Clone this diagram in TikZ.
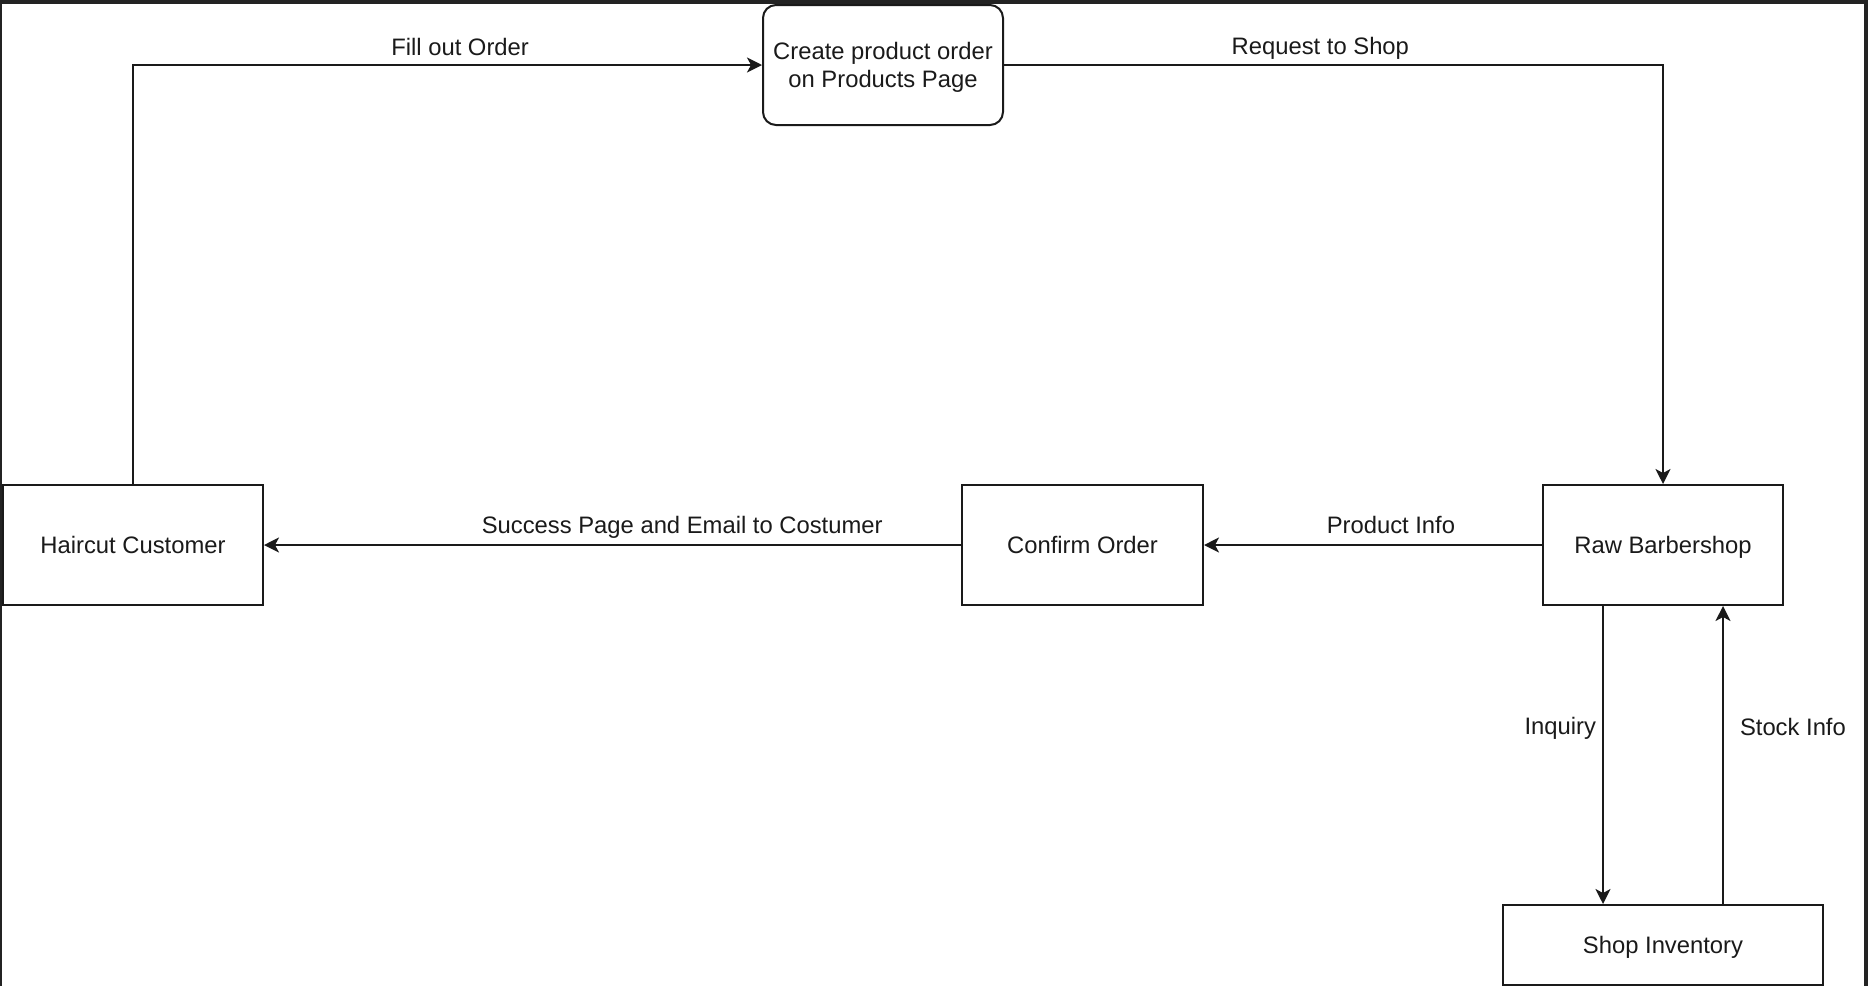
\documentclass[tikz,border=0pt]{standalone}
\usepackage{fontspec}
\setmainfont{Liberation Sans}
\usetikzlibrary{arrows.meta}
\definecolor{framec}{HTML}{232323}
\definecolor{ink}{HTML}{1A1A1A}
\begin{document}
\begin{tikzpicture}[x=0.5pt,y=-0.5pt,
  font=\fontsize{11.9}{14}\selectfont,
  box/.style={draw=ink,line width=1pt,fill=white,text=ink,inner sep=0pt,align=center,text depth=0pt},
  rbox/.style={box,rounded corners=6.5pt},
  arr/.style={draw=ink,line width=1pt,-{Stealth[length=7.5pt,width=7.5pt,inset=2pt]}},
  lbl/.style={text=ink,inner sep=0pt}]
\useasboundingbox (0,0) rectangle (1868,986);
\fill[framec] (0,0) rectangle (1868,986);
\fill[white] (2,4) rectangle (1864,986);

\node[box,minimum width=130pt,minimum height=60pt] (cust) at (133,545) {Haircut Customer};
\node[box,minimum width=120.5pt,minimum height=60pt] (conf) at (1082.5,545) {Confirm Order};
\node[box,minimum width=120pt,minimum height=60pt] (raw) at (1663,545) {Raw Barbershop};
\node[rbox,minimum width=120pt,minimum height=60pt] (create) at (883,65) {Create product order\\on Products Page};
\node[box,minimum width=160pt,minimum height=40pt] (inv) at (1663,945) {Shop Inventory};

\draw[arr] (cust.north) |- (create.west)
  node[lbl,pos=0.76,yshift=9pt] {Fill out Order};
\draw[arr] (create.east) -| (raw.north)
  node[lbl,pos=0.24,yshift=8.5pt] {Request to Shop};
\draw[arr] (raw.west) -- (conf.east)
  node[lbl,pos=0.447,yshift=10pt] {Product Info};
\draw[arr] (conf.west) -- (cust.east)
  node[lbl,pos=0.40,yshift=8.6pt] {Success Page and Email to Costumer};
\draw[arr] ([xshift=-30pt]raw.south) -- ([xshift=-30pt]inv.north)
  node[lbl,pos=0.41,anchor=east,xshift=-3pt] {Inquiry};
\draw[arr] ([xshift=30pt]inv.north) -- ([xshift=30pt]raw.south)
  node[lbl,pos=0.593,anchor=west,xshift=8pt] {Stock Info};
\end{tikzpicture}
\end{document}
